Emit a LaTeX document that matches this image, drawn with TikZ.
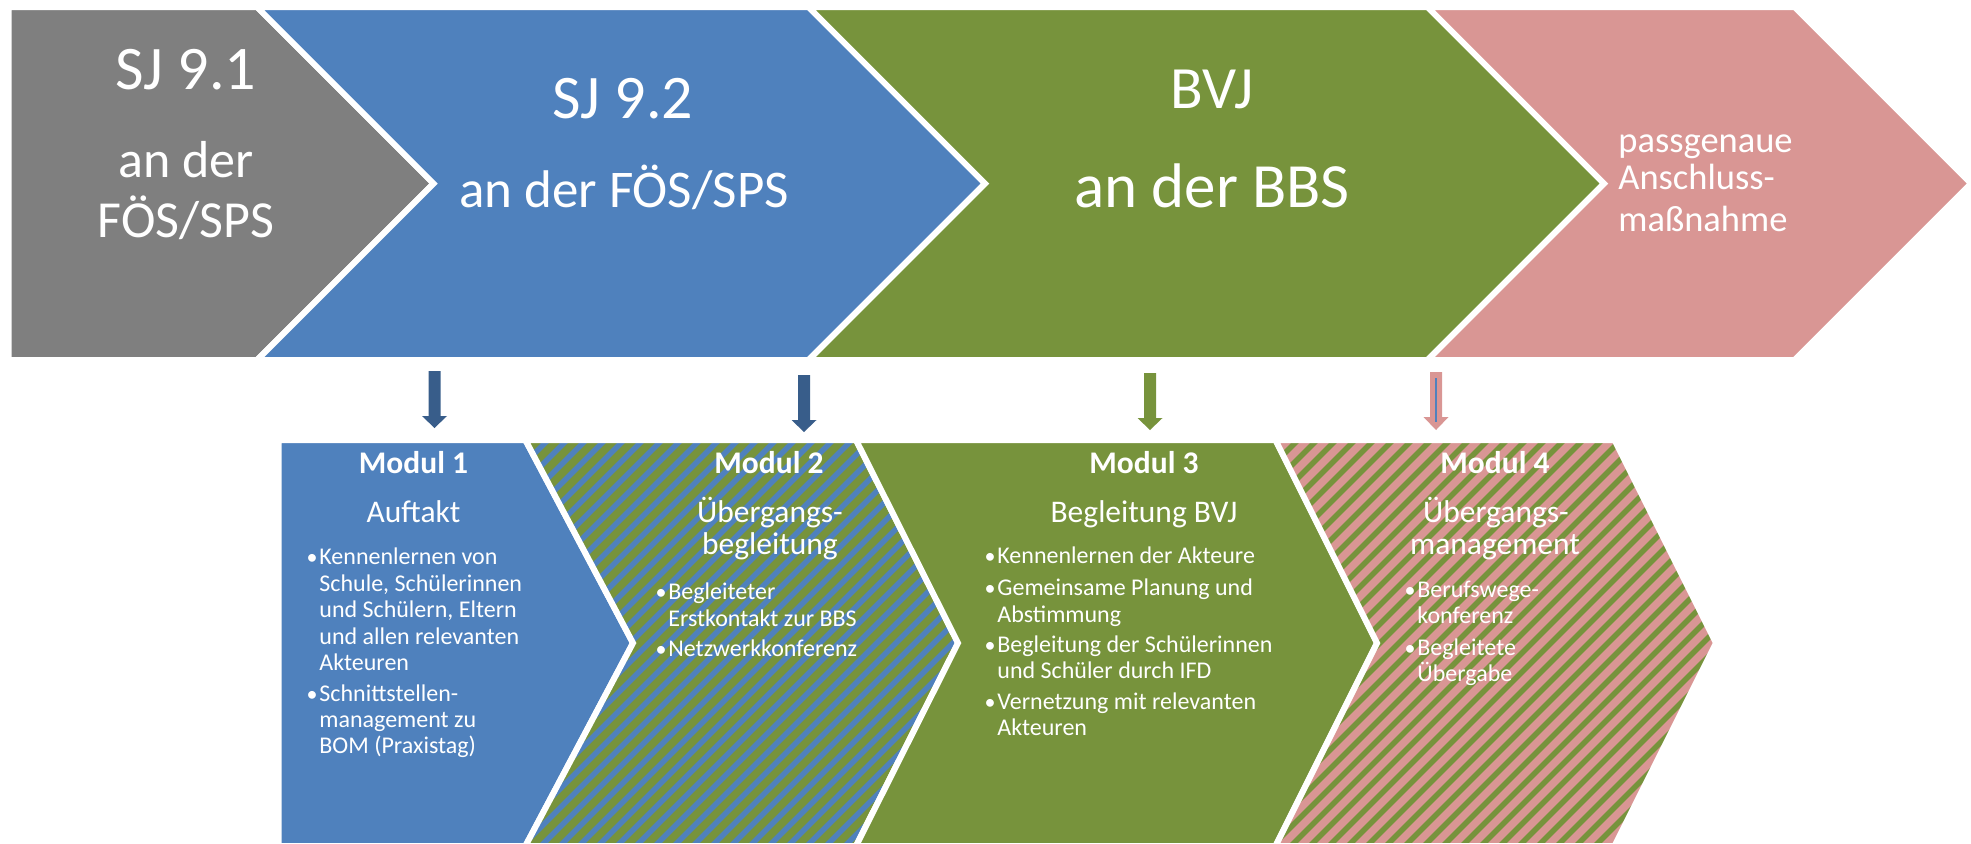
\documentclass[tikz,border=0pt]{standalone}
\usepackage{fontspec}
\setmainfont{Carlito}
\definecolor{cgray}{HTML}{7F7F7F}
\definecolor{cblue}{HTML}{4F81BD}
\definecolor{cgreen}{HTML}{77933C}
\definecolor{cpink}{HTML}{D99694}
\definecolor{cdark}{HTML}{385D8A}

% block arrow pointing down: colour, centre x, top y, head start y, tip y
\newcommand\dnblock[5]{%
  \fill[#1] ({#2-6},#3) -- ({#2+6},#3) -- ({#2+6},#4) -- ({#2+12.5},#4)
    -- (#2,#5) -- ({#2-12.5},#4) -- ({#2-6},#4) -- cycle;}

\begin{document}
\begin{tikzpicture}[x=0.5pt,y=-0.5pt,
  band/.style={draw=white, line width=3pt},
  lbl/.style={text=white, inner sep=0pt},
  ttl/.style={lbl, anchor=base, font=\fontsize{31pt}{37pt}\selectfont},
  sub/.style={lbl, anchor=base, font=\fontsize{26pt}{31pt}\selectfont},
  nxt/.style={lbl, anchor=base west, font=\fontsize{18.25pt}{20pt}\selectfont},
  modhead/.style={lbl, anchor=base, font=\bfseries\fontsize{15.75pt}{19pt}\selectfont},
  modtitle/.style={lbl, anchor=base, font=\fontsize{15.75pt}{19pt}\selectfont},
  item/.style={lbl, anchor=base west, font=\fontsize{12pt}{14pt}\selectfont},
  dot/.style={lbl, anchor=base east, font=\fontsize{11pt}{14pt}\selectfont},
  stripe/.style={line width=2.7pt}
]
\useasboundingbox (0,0) rectangle (1971,843);

% ---------- upper row: school years ----------
\path[fill=cgray, band] (8.5,7) -- (257,7) -- (433.5,183.5) -- (257,360) -- (8.5,360) -- cycle;
\path[fill=cblue, band] (257,7) -- (808.5,7) -- (985,183.5) -- (808.5,360) -- (257,360) -- (433.5,183.5) -- cycle;
\path[fill=cgreen, band] (808.5,7) -- (1427.5,7) -- (1604,183.5) -- (1427.5,360) -- (808.5,360) -- (985,183.5) -- cycle;
\path[fill=cpink, band] (1427.5,7) -- (1794.5,7) -- (1971,183.5) -- (1794.5,360) -- (1427.5,360) -- (1604,183.5) -- cycle;

\node[ttl] (sj91) at (186,89) {SJ 9.1};
\node[sub] (sj91a) at (186,177) {an der};
\node[sub] (sj91b) at (186,237) {FÖS/SPS};

\node[ttl] (sj92) at (623,118) {SJ 9.2};
\node[sub, font=\fontsize{26.5pt}{31pt}\selectfont] (sj92a) at (624,207) {an der FÖS/SPS};

\node[ttl, font=\fontsize{30pt}{36pt}\selectfont] (bvj) at (1212,108) {BVJ};
\node[ttl, font=\fontsize{31.5pt}{37pt}\selectfont] (bvja) at (1212,207) {an der BBS};

\node[nxt] (nx1) at (1618,152) {passgenaue};
\node[nxt] (nx2) at (1618,189) {Anschluss-};
\node[nxt] (nx3) at (1618,231) {maßnahme};

% ---------- down arrows ----------
\dnblock{cdark}{434.5}{371}{416}{428}
\dnblock{cdark}{804}{375}{420}{432}
\dnblock{cgreen}{1150}{373}{418}{430}
\dnblock{cpink}{1436}{372}{417}{430}
\draw[cblue, line width=0.7pt] (1436,378) -- (1436,422);

% ---------- lower row: modules ----------
% Modul 1
\path[fill=cblue, band] (278.5,440) -- (525.4,440) -- (633,643) -- (525.4,846) -- (278.5,846) -- cycle;

% Modul 2 (striped green/blue)
\begin{scope}
  \clip (525.4,440) -- (856,440) -- (958,643) -- (856,846) -- (525.4,846) -- (633,643) -- cycle;
  \fill[cgreen] (500,430) rectangle (1000,850);
  \foreach \s in {0,...,47}
    \draw[cblue, stripe] ({100+19*\s},850) -- ({100+19*\s+410},440);
\end{scope}
\path[band] (525.4,440) -- (856,440) -- (958,643) -- (856,846) -- (525.4,846) -- (633,643) -- cycle;

% Modul 3
\path[fill=cgreen, band] (856,440) -- (1275.5,440) -- (1377,643) -- (1275.5,846) -- (856,846) -- (958,643) -- cycle;

% Modul 4 (striped pink/green)
\begin{scope}
  \clip (1275.5,440) -- (1614.5,440) -- (1716,643) -- (1614.5,846) -- (1275.5,846) -- (1377,643) -- cycle;
  \fill[cpink] (1250,430) rectangle (1750,850);
  \foreach \s in {0,...,47}
    \draw[cgreen, stripe] ({850+19*\s},850) -- ({850+19*\s+410},440);
\end{scope}
\path[band] (1275.5,440) -- (1614.5,440) -- (1716,643) -- (1614.5,846) -- (1275.5,846) -- (1377,643) -- cycle;

% module texts
\node[modhead] (h1) at (413.5,473) {Modul 1};
\node[modtitle] (t1) at (413.5,522) {Auftakt};
\node[dot] (b1a) at (318,564) {•};
\node[dot] (b1b) at (318,701) {•};
\foreach \y/\t [count=\i] in {564/Kennenlernen von, 591/{Schule, Schülerinnen},
    617/{und Schülern, Eltern}, 644/und allen relevanten, 670/Akteuren,
    701/Schnittstellen-, 727/management zu, 753/BOM (Praxistag)}
  \node[item] (l1\i) at (319,\y) {\t};

\node[modhead] (h2) at (769,473) {Modul 2};
\node[modtitle] (t2a) at (770,522) {Übergangs-};
\node[modtitle] (t2b) at (770,554) {begleitung};
\node[dot] (b2a) at (667,599) {•};
\node[dot] (b2b) at (667,656) {•};
\foreach \y/\t [count=\i] in {599/Begleiteter, 626/Erstkontakt zur BBS, 656/Netzwerkkonferenz}
  \node[item] (l2\i) at (668,\y) {\t};

\node[modhead] (h3) at (1144,473) {Modul 3};
\node[modtitle] (t3) at (1144,522) {Begleitung BVJ};
\foreach \y [count=\i] in {563,595,652,709}
  \node[dot] (b3\i) at (996,\y) {•};
\foreach \y/\t [count=\i] in {563/Kennenlernen der Akteure, 595/Gemeinsame Planung und,
    622/Abstimmung, 652/Begleitung der Schülerinnen, 678/und Schüler durch IFD,
    709/Vernetzung mit relevanten, 735/Akteuren}
  \node[item] (l3\i) at (997,\y) {\t};

\node[modhead] (h4) at (1495,473) {Modul 4};
\node[modtitle] (t4a) at (1496,522) {Übergangs-};
\node[modtitle] (t4b) at (1495,554) {management};
\node[dot] (b4a) at (1416,597) {•};
\node[dot] (b4b) at (1416,655) {•};
\foreach \y/\t [count=\i] in {597/Berufswege-, 623/konferenz, 655/Begleitete, 681/Übergabe}
  \node[item] (l4\i) at (1417,\y) {\t};
\end{tikzpicture}
\end{document}
